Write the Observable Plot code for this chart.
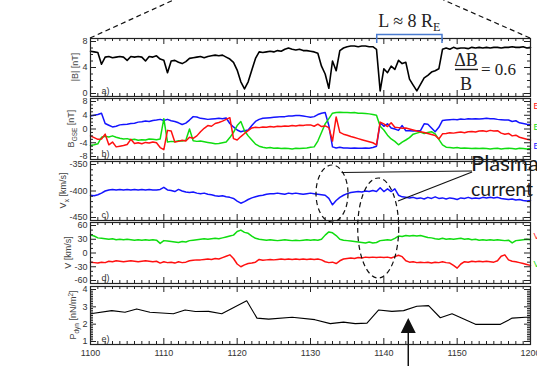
<!DOCTYPE html>
<html><head><meta charset="utf-8">
<script src="https://cdn.jsdelivr.net/npm/d3@7"></script>
<script src="https://cdn.jsdelivr.net/npm/@observablehq/plot@0.6"></script>
<style>
body{margin:0;background:#fff;}
#chart{position:relative;width:537px;height:366px;overflow:hidden;background:#fff;}
#chart > svg{position:absolute;left:0;}
</style></head><body><div id="chart"></div>
<script>
// ---- data (minutes after 11:00 UT, sampled every 0.5 min) ----
const times = d3.range(0, 60.5, 0.5);
const bAbs = [6.5,6.4,6.3,4.5,5.6,5.7,5.5,5.6,5.7,5.6,
 5.1,5.7,5.6,5.7,5.6,5.0,5.7,5.6,5.8,5.3,
 5.1,3.2,5.0,5.1,4.8,4.6,4.9,5.4,5.5,5.6,
 5.7,5.5,5.7,5.8,5.9,5.8,5.9,5.6,5.3,4.8,
 3.6,1.8,0.7,1.8,3.6,5.4,6.4,6.3,6.4,6.5,
 6.4,6.6,6.5,6.8,7.0,6.8,6.7,6.8,6.6,6.6,
 6.5,6.4,6.2,4.2,3.0,0.8,5.0,3.5,6.6,7.0,
 7.2,7.3,7.3,7.2,7.3,7.3,7.2,7.2,6.8,0.4,
 3.8,3.2,4.2,3.7,5.1,4.6,4.8,2.2,1.3,0.4,
 1.4,2.4,2.8,3.3,3.5,3.8,6.8,7.0,6.8,7.1,
 6.9,7.0,7.0,6.9,7.1,7.0,7.1,7.0,7.1,7.0,
 7.1,7.1,7.0,7.1,7.1,7.2,7.1,7.1,7.2,7.0,
 7.1];
const bx = [-2.0,-2.5,-3.0,-2.9,-1.5,-4.6,-3.8,-5.2,-5.0,-4.8,
 -4.5,-3.0,-4.2,-4.0,-4.3,-3.9,-4.1,-3.8,-4.0,-5.4,
 -6.0,-0.4,-0.6,-3.8,-3.6,-3.3,-3.5,-2.4,-2.7,-2.0,
 -0.8,0.2,1.0,0.8,1.6,1.9,2.3,2.8,3.3,-2.8,
 -3.2,-2.2,-1.3,-0.5,0.3,0.5,0.4,0.6,0.5,0.7,
 0.6,0.8,0.7,0.9,0.8,1.0,0.9,1.1,1.0,1.2,
 1.2,0.8,1.4,0.7,0.9,0.4,-3.5,3.5,-1.0,-1.5,
 -1.8,-2.2,-2.5,-2.8,-3.1,-3.4,-3.7,-4.0,-4.6,2.0,
 1.5,0.7,1.8,0.5,0.4,0.2,0.3,0.0,-0.3,-0.6,
 -0.8,-1.0,-1.3,-1.6,-1.9,-2.9,-1.4,-1.3,-1.1,-1.2,
 -1.0,-0.9,-1.1,-0.8,-0.7,-0.9,-0.6,-0.5,-0.7,-0.4,
 -0.6,-0.5,-1.2,-1.5,-1.3,-2.0,-1.8,-2.4,-2.7,-3.0,
 -3.2];
const by = [-4.8,-4.6,-4.3,-2.4,-2.1,-2.3,-2.0,-2.4,-2.7,-2.9,
 -2.8,-3.1,-3.0,-3.3,-3.1,-3.2,-2.9,-3.0,-3.1,-2.9,
 3.0,-3.8,-3.6,-3.7,-3.4,-3.5,-3.3,0.0,-3.4,-3.6,
 -3.5,-3.7,-3.9,-4.1,-4.3,-4.2,-4.0,-3.8,-2.5,-1.0,
 1.0,2.2,-0.5,-2.0,-3.2,-4.4,-5.0,-5.3,-5.5,-5.4,
 -5.6,-5.5,-5.7,-5.6,-5.7,-5.8,-5.6,-5.7,-5.6,-5.5,
 -5.3,-5.2,-3.5,-1.0,1.5,3.0,4.6,4.8,4.9,4.8,
 4.8,4.7,4.8,4.6,4.6,4.5,4.4,4.2,4.0,0.8,
 -0.3,-1.8,-2.9,-3.6,-4.6,-3.8,-3.2,-2.5,-1.5,-1.2,
 -0.9,-1.3,-1.0,-0.8,-1.4,-3.0,-4.6,-5.3,-5.4,-5.5,
 -5.4,-5.6,-5.5,-5.6,-5.7,-5.6,-5.7,-5.6,-5.7,-5.8,
 -5.7,-5.6,-5.8,-5.7,-5.6,-5.7,-5.8,-5.6,-5.7,-5.8,
 -5.7];
const bz = [3.8,4.0,4.2,4.6,1.6,1.1,0.6,0.8,1.2,1.3,
 1.4,1.6,1.7,2.0,2.1,2.3,2.2,2.5,2.6,2.8,
 2.5,2.8,2.4,2.2,1.8,1.3,1.7,2.6,3.6,3.5,
 3.1,3.0,2.8,2.9,3.0,3.1,3.0,3.2,1.6,0.6,
 -0.3,-0.8,-0.5,-0.3,1.0,2.2,2.8,3.1,3.2,3.3,
 3.4,3.5,3.6,3.6,3.8,3.8,3.9,3.9,3.8,3.6,
 3.4,3.6,4.2,4.6,4.8,1.0,-5.2,-5.5,-5.3,-5.5,
 -5.5,-5.6,-5.5,-5.6,-5.6,-5.5,-5.6,-5.4,-5.0,1.8,
 0.8,1.5,0.3,0.0,-0.4,1.0,-0.5,-0.5,-0.6,-0.5,
 -0.5,1.5,1.4,0.3,-0.8,0.5,2.5,2.6,2.7,2.8,
 2.7,2.9,2.8,3.0,2.9,3.0,2.9,3.0,3.1,3.0,
 3.0,2.8,2.7,2.6,2.6,2.2,2.4,1.8,1.6,1.4,
 1.3];
const vx = [-408,-409,-407,-404,-400,-398,-397,-398,-397,-398,
 -397,-398,-397,-398,-397,-398,-397,-398,-398,-397,
 -393,-398,-399,-401,-397,-400,-402,-403,-402,-404,
 -405,-404,-406,-407,-409,-410,-409,-411,-412,-414,
 -419,-423,-420,-416,-413,-411,-409,-408,-406,-405,
 -405,-404,-405,-406,-404,-405,-404,-405,-406,-405,
 -404,-405,-406,-407,-408,-414,-426,-418,-412,-408,
 -405,-403,-402,-401,-402,-400,-401,-399,-401,-394,
 -401,-396,-401,-396,-408,-411,-412,-413,-412,-414,
 -413,-415,-412,-414,-411,-414,-413,-415,-413,-414,
 -416,-413,-414,-412,-414,-413,-414,-412,-413,-412,
 -413,-412,-414,-415,-416,-415,-417,-416,-418,-419,
 -418];
const vGreen = [39,37,33,32,31,30,31,29,30,29,
 30,29,28,29,28,29,28,29,28,21,
 27,26,25,24,23,25,24,27,28,29,
 30,31,30,31,32,31,33,35,37,39,
 47,50,45,43,37,32,30,29,28,29,
 28,27,28,29,28,27,28,27,28,29,
 28,29,28,30,39,46,44,38,30,28,
 27,26,25,24,23,22,24,22,23,27,
 28,29,28,32,37,36,38,37,38,37,
 38,36,34,33,31,30,32,30,31,30,
 31,32,30,31,29,30,28,29,28,29,
 28,29,28,27,28,22,27,28,29,30,
 29];
const vRed = [-20,-21,-22,-20,-21,-18,-19,-17,-18,-19,
 -18,-17,-18,-19,-18,-17,-18,-19,-18,-22,
 -19,-21,-20,-22,-19,-21,-20,-17,-16,-15,
 -15,-14,-13,-14,-12,-13,-10,-7,-4,-12,
 -24,-30,-26,-23,-22,-20,-14,-16,-15,-14,
 -15,-14,-13,-14,-13,-14,-13,-14,-13,-14,
 -13,-14,-13,-15,-19,-21,-20,-23,-17,-13,
 -12,-11,-12,-10,-11,-9,-10,-9,-10,-9,
 -10,-9,-11,-8,-5,-8,-17,-20,-19,-21,
 -20,-21,-20,-22,-20,-21,-19,-21,-22,-27,
 -33,-24,-19,-20,-18,-19,-18,-19,-18,-19,
 -20,-17,-7,-4,-15,-18,-19,-21,-23,-25,
 -27];
const pdynT = [0,2.9,4.7,6.3,8.1,11.3,12.9,14.3,16.1,17.9,21.3,22.7,24.3,27.5,30.6,32.7,34.5,36.1,37.7,39.3,41.1,42.7,44.5,46.1,47.7,49.3,52.5,55.9,57.5,59.3,60];
const pdyn = [2.6,2.78,2.69,2.88,2.69,2.6,2.82,2.73,2.74,2.6,3.35,2.35,2.29,2.4,2.26,2.03,2.12,2.03,2.06,2.82,2.74,2.78,3.03,3.07,2.37,2.6,1.99,1.99,2.35,2.4,2.4];
const xTickMinutes = [0,10,20,30,40,50,60];

const RED = "#ff1010", GREEN = "#10dd10", BLUE = "#1414ff", INK = "#222";
const fmtTime = m => { const t = 660 + m; return `${Math.floor(t/60)}${String(t%60).padStart(2,"0")}`; };
const minorOf = (lo, hi, step, majors) => d3.range(lo, hi + step/2, step).map(v => +v.toFixed(3)).filter(v => !majors.some(M => Math.abs(M - v) < 1e-6));

const panels = [
  {top:38, bottom:96, domain:[0,8], yTicks:[0,4,8], step:1, letter:"a)", labelX:78,
   series:[{x:times, y:bAbs, stroke:"#000", w:1.6}]},
  {top:98, bottom:159, domain:[-8,8], yTicks:[-8,-4,0,4,8], step:1, letter:"b)", labelX:74,
   series:[{x:times, y:bz, stroke:BLUE, w:1.5},{x:times, y:by, stroke:GREEN, w:1.5},{x:times, y:bx, stroke:RED, w:1.5}]},
  {top:161, bottom:220, domain:[-450,-350], yTicks:[-450,-400,-350], step:10, letter:"c)", labelX:66,
   series:[{x:times, y:vx, stroke:BLUE, w:1.5}]},
  {top:222, bottom:283, domain:[-60,60], yTicks:[-60,-30,0,30,60], step:10, letter:"d)", labelX:71,
   series:[{x:times, y:vGreen, stroke:GREEN, w:1.5},{x:times, y:vRed, stroke:RED, w:1.5}]},
  {top:286, bottom:344, domain:[1,4], yTicks:[1,2,3,4], step:0.1, letter:"e)", labelX:76,
   series:[{x:pdynT, y:pdyn, stroke:"#000", w:1.1}]}
];

const chart = document.getElementById("chart");
const FW = 440;
panels.forEach((p, k) => {
  const last = k === panels.length - 1;
  const mt = 4, mb = last ? 22 : 4;
  const fh = p.bottom - p.top;
  const xMinor = minorOf(0, 60, 1, xTickMinutes);
  const yMinor = minorOf(p.domain[0], p.domain[1], p.step, p.yTicks);
  const marks = [];
  for (const s of p.series) {
    marks.push(Plot.line(s.y, {x: (d, i) => s.x[i], y: d => d, stroke: s.stroke, strokeWidth: s.w, strokeLinejoin: "round"}));
  }
  marks.push(
    Plot.ruleX(xTickMinutes, {x: d => d, insetBottom: fh - 6, stroke: INK}),
    Plot.ruleX(xTickMinutes, {x: d => d, insetTop: fh - 6, stroke: INK}),
    Plot.ruleX(xMinor, {x: d => d, insetBottom: fh - 3, stroke: INK}),
    Plot.ruleX(xMinor, {x: d => d, insetTop: fh - 3, stroke: INK}),
    Plot.ruleY(p.yTicks, {y: d => d, insetRight: FW - 6, stroke: INK}),
    Plot.ruleY(p.yTicks, {y: d => d, insetLeft: FW - 6, stroke: INK}),
    Plot.ruleY(yMinor, {y: d => d, insetRight: FW - 3, stroke: INK}),
    Plot.ruleY(yMinor, {y: d => d, insetLeft: FW - 3, stroke: INK}),
    Plot.frame({stroke: INK, strokeWidth: 1.2}),
    Plot.text([p.letter], {text: d => d, frameAnchor: "bottom-left", dx: 11, dy: -3, textAnchor: "start", lineAnchor: "bottom", fontSize: 9, fill: "#333"})
  );
  const svg = Plot.plot({
    width: 537, height: fh + mt + mb,
    marginTop: mt, marginBottom: mb, marginLeft: 90, marginRight: 7,
    x: {domain: [0, 60], axis: last ? "bottom" : null, ticks: xTickMinutes, tickFormat: fmtTime, tickSize: 0, tickPadding: 5, label: null},
    y: {domain: p.domain, ticks: p.yTicks, tickFormat: d => String(d), tickSize: 0, tickPadding: 3, label: null, inset: 3},
    style: {background: "transparent", fontFamily: "'Liberation Sans', Arial, sans-serif", fontSize: "9px", color: "#333", overflow: "visible"},
    marks
  });
  svg.style.position = "absolute";
  svg.style.top = (p.top - mt) + "px";
  svg.style.left = "0px";
  chart.appendChild(svg);
});

// ---- annotations ----
const xs = d3.scaleLinear([0, 60], [90, 530]);
const yLabels = [
  {parts:[["|B| [nT]",0]], k:0},
  {parts:[["B",0],["GSE",1],[" [nT]",0]], k:1},
  {parts:[["V",0],["x",1],[" [km/s]",0]], k:2},
  {parts:[["V [km/s]",0]], k:3},
  {parts:[["P",0],["dyn",1],[" [nN/m",0],["2",2],["]",0]], k:4}
];
const zoomLines = [{from:0, to:11.4}, {from:60, to:48.2}];
const bracket = {from:39.1, to:48.0};
const ellipses = [{m:33.0, cy:193.5, rx:16, ry:28.5}, {m:39.3, cy:228, rx:20.5, ry:50}];
const pointers = [{m0:34.3, y0:172.5, m1:52.1, y1:171}, {m0:42.0, y0:201, m1:52.1, y1:172}];
const arrowAt = 43.4;
const edgeLabels = [{t:"Bx", y:106, c:RED},{t:"By", y:127, c:GREEN},{t:"Bz", y:146, c:BLUE},{t:"Vy", y:236, c:RED},{t:"Vz", y:264, c:GREEN}];

const ov = d3.select(chart).append("svg").attr("width", 537).attr("height", 366)
  .style("position", "absolute").style("top", "0px").style("left", "0px");

ov.selectAll("line.zoom").data(zoomLines).join("line")
  .attr("x1", d => xs(d.from)).attr("y1", 38).attr("x2", d => xs(d.to)).attr("y2", 0)
  .attr("stroke", "#111").attr("stroke-width", 1.2).attr("stroke-dasharray", "5,3.5");

ov.append("path").attr("d", `M${xs(bracket.from)},43V34.5H${xs(bracket.to)}V43`)
  .attr("fill", "none").attr("stroke", "#4a7bd0").attr("stroke-width", 1.5);

const serif = "'Liberation Serif', 'DejaVu Serif', serif";
const L = ov.append("text").attr("x", xs((bracket.from + bracket.to) / 2)).attr("y", 27)
  .attr("text-anchor", "middle").attr("font-family", serif).attr("font-size", 18).attr("fill", "#222");
L.append("tspan").text("L ≈ 8 R");
L.append("tspan").attr("dy", 4).attr("font-size", 12).text("E");

ov.append("text").attr("x", 466).attr("y", 66).attr("text-anchor", "middle").attr("font-family", serif).attr("font-size", 18).attr("fill", "#222").text("ΔB");
ov.append("line").attr("x1", 455).attr("x2", 478).attr("y1", 69.5).attr("y2", 69.5).attr("stroke", "#222").attr("stroke-width", 1.4);
ov.append("text").attr("x", 466).attr("y", 90).attr("text-anchor", "middle").attr("font-family", serif).attr("font-size", 18).attr("fill", "#222").text("B");
ov.append("text").attr("x", 481).attr("y", 75).attr("font-family", serif).attr("font-size", 17).attr("fill", "#222").text("= 0.6");

ov.selectAll("ellipse").data(ellipses).join("ellipse")
  .attr("cx", d => xs(d.m)).attr("cy", d => d.cy).attr("rx", d => d.rx).attr("ry", d => d.ry)
  .attr("fill", "none").attr("stroke", "#111").attr("stroke-width", 1.2).attr("stroke-dasharray", "5,3.5");

ov.selectAll("line.ptr").data(pointers).join("line")
  .attr("x1", d => xs(d.m0)).attr("y1", d => d.y0).attr("x2", d => xs(d.m1)).attr("y2", d => d.y1)
  .attr("stroke", "#111").attr("stroke-width", 1.2);

const sans = "Lato, 'Open Sans', sans-serif";
ov.append("text").attr("x", 471).attr("y", 171).attr("font-family", sans).attr("font-size", 22).attr("fill", "#1a1a1a").text("Plasma");
ov.append("text").attr("x", 471).attr("y", 196).attr("font-family", sans).attr("font-size", 19.5).attr("fill", "#1a1a1a").text("current");

const ax = xs(arrowAt);
ov.append("line").attr("x1", ax).attr("x2", ax).attr("y1", 366).attr("y2", 332).attr("stroke", "#111").attr("stroke-width", 1.5);
ov.append("path").attr("d", `M${ax - 7.5},333L${ax + 7.5},333L${ax},318Z`).attr("fill", "#111");

yLabels.forEach(l => {
  const p = panels[l.k];
  const t = ov.append("text").attr("transform", `translate(${p.labelX},${(p.top + p.bottom) / 2}) rotate(-90)`)
    .attr("text-anchor", "middle").attr("font-family", "'Liberation Sans', Arial, sans-serif").attr("font-size", 9).attr("fill", "#444");
  let shift = 0;
  l.parts.forEach(([s, kind]) => {
    const target = kind === 1 ? 2.5 : kind === 2 ? -3.5 : 0;
    const ts = t.append("tspan").attr("dy", target - shift).text(s);
    if (kind) ts.attr("font-size", 6.5);
    shift = target;
  });
});

ov.selectAll("text.edge").data(edgeLabels).join("text")
  .attr("x", 533.5).attr("y", d => d.y + 3).attr("font-family", "'Liberation Sans', Arial, sans-serif").attr("font-size", 9).attr("fill", d => d.c).text(d => d.t);
</script></body></html>
